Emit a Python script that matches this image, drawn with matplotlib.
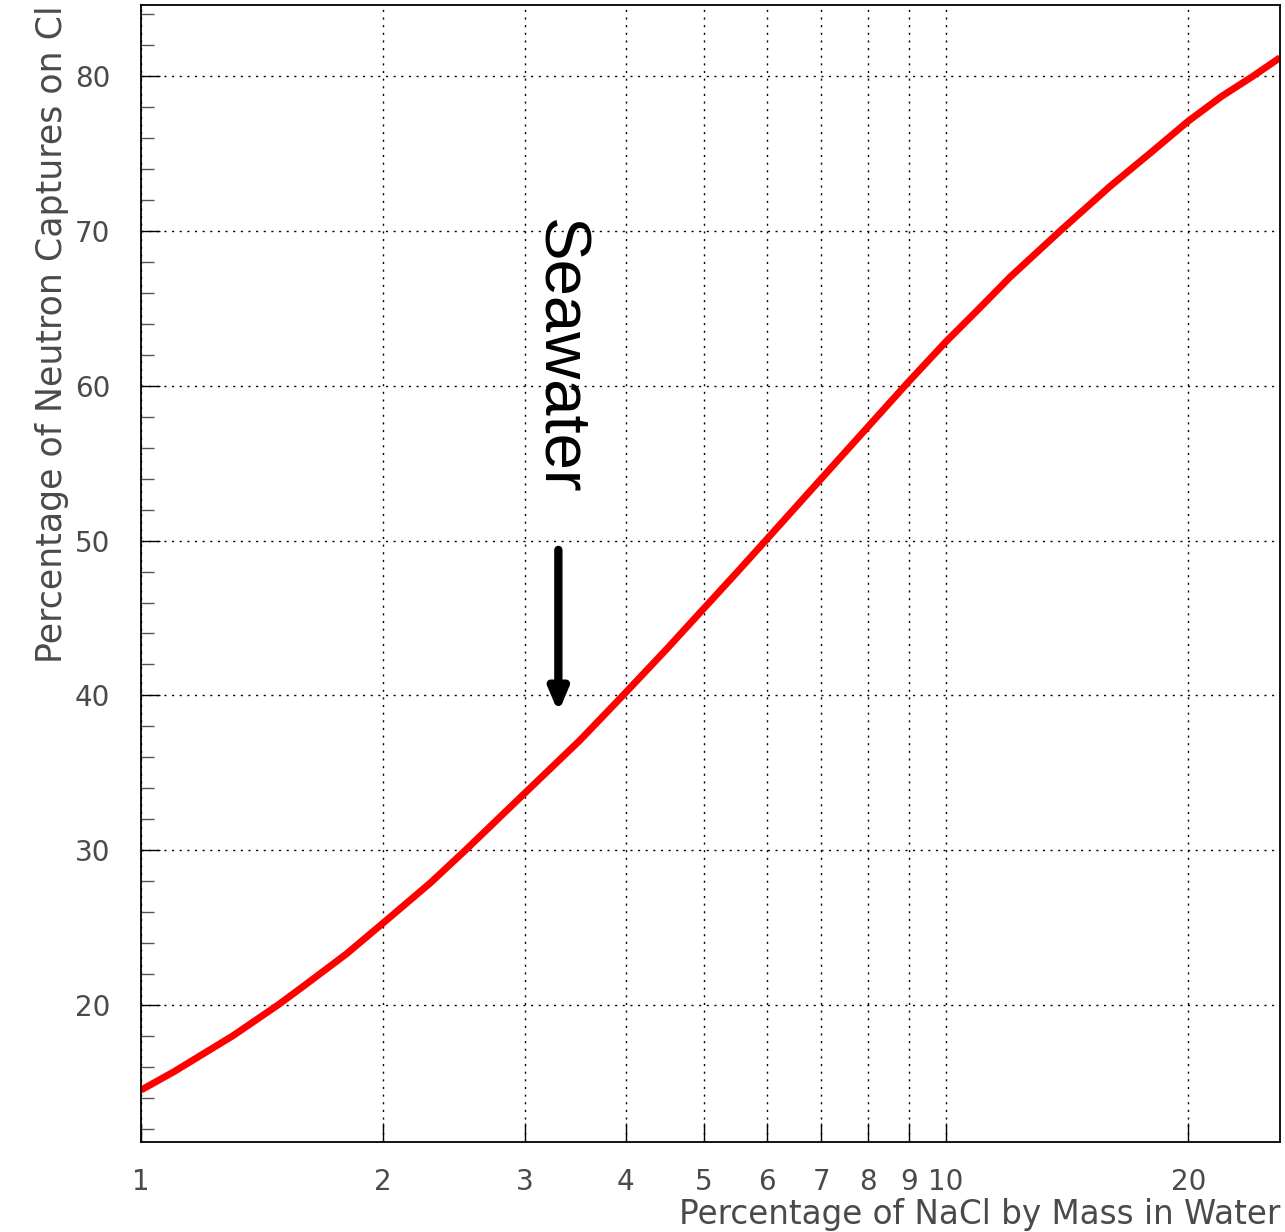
import matplotlib.pyplot as plt
import numpy as np
from matplotlib.ticker import FixedLocator, NullFormatter

# Curva
nacl_pct = [1.0, 1.1, 1.2, 1.3, 1.48, 1.6, 1.8, 2.0, 2.29, 2.53, 3.0, 3.51, 3.97, 4.5,
            5.0, 5.5, 5.97, 7.0, 8.0, 9.0, 10.0, 11.0, 12.0, 13.86, 16.0, 18.0, 20.0,
            22.0, 24.06, 26.0]
captura_cl = [14.5, 15.7, 16.9, 18.0, 20.0, 21.3, 23.3, 25.3, 27.9, 30.0, 33.7, 37.1,
              40.0, 43.0, 45.6, 47.95, 50.0, 54.0, 57.35, 60.3, 62.85, 65.0, 67.0, 70.0,
              72.9, 75.1, 77.1, 78.7, 80.0, 81.2]

xticks = [1, 2, 3, 4, 5, 6, 7, 8, 9, 10, 20]
xticklabels = ['1', '2', '3', '4', '5', '6', '7', '8', '9', '10', '20']
yticks = [20, 30, 40, 50, 60, 70, 80]

seawater_x = 3.3
arrow_top, arrow_tip = 49.4, 38.9

fig = plt.figure(figsize=(12.85, 12.32), dpi=100)
ax = fig.add_axes([0.1097, 0.0731, 0.8864, 0.9228])

ax.plot(nacl_pct, captura_cl, color='red', lw=5, solid_capstyle='butt',
        solid_joinstyle='round')

ax.set_xscale('log')
ax.set_xlim(1, 26)
ax.set_ylim(11.15, 84.6)

gris = '#4a4a4a'
fuente = 'DejaVu Sans'

ax.xaxis.set_major_locator(FixedLocator(xticks))
ax.xaxis.set_minor_locator(FixedLocator([]))
ax.xaxis.set_minor_formatter(NullFormatter())
ax.set_xticklabels(xticklabels)
ax.set_yticks(yticks)
ax.yaxis.set_minor_locator(FixedLocator(np.arange(12, 85, 2)))

ax.tick_params(axis='both', which='major', direction='in', length=14, width=1,
               labelsize=20, labelcolor=gris, colors='black')
ax.tick_params(axis='both', which='minor', direction='in', length=9, width=1, color='#555555')
ax.tick_params(axis='x', pad=19)
ax.tick_params(axis='y', pad=22)
for lab in ax.get_xticklabels() + ax.get_yticklabels():
    lab.set_family(fuente)

ax.grid(True, which='major', color='black', linestyle=(0, (1.5, 4)), linewidth=1)

for s in ax.spines.values():
    s.set_linewidth(1.3)

ax.set_xlabel('Percentage of NaCl by Mass in Water', fontsize=23.5, color=gris,
              family=fuente, loc='right', labelpad=1)
ax.set_ylabel('Percentage of Neutron Captures on Cl', fontsize=25, color=gris,
              family=fuente, loc='top', labelpad=4)

ax.text(seawater_x, 61.9, 'Seawater', rotation=-90, ha='center', va='center',
        fontsize=47, family='Liberation Sans', color='black')
ax.annotate('', xy=(seawater_x, arrow_tip), xytext=(seawater_x, arrow_top),
            arrowprops=dict(arrowstyle='-|>,head_width=0.55,head_length=1.3',
                            lw=6, color='black', shrinkA=0, shrinkB=0))

fig.savefig('out.png', dpi=100)
